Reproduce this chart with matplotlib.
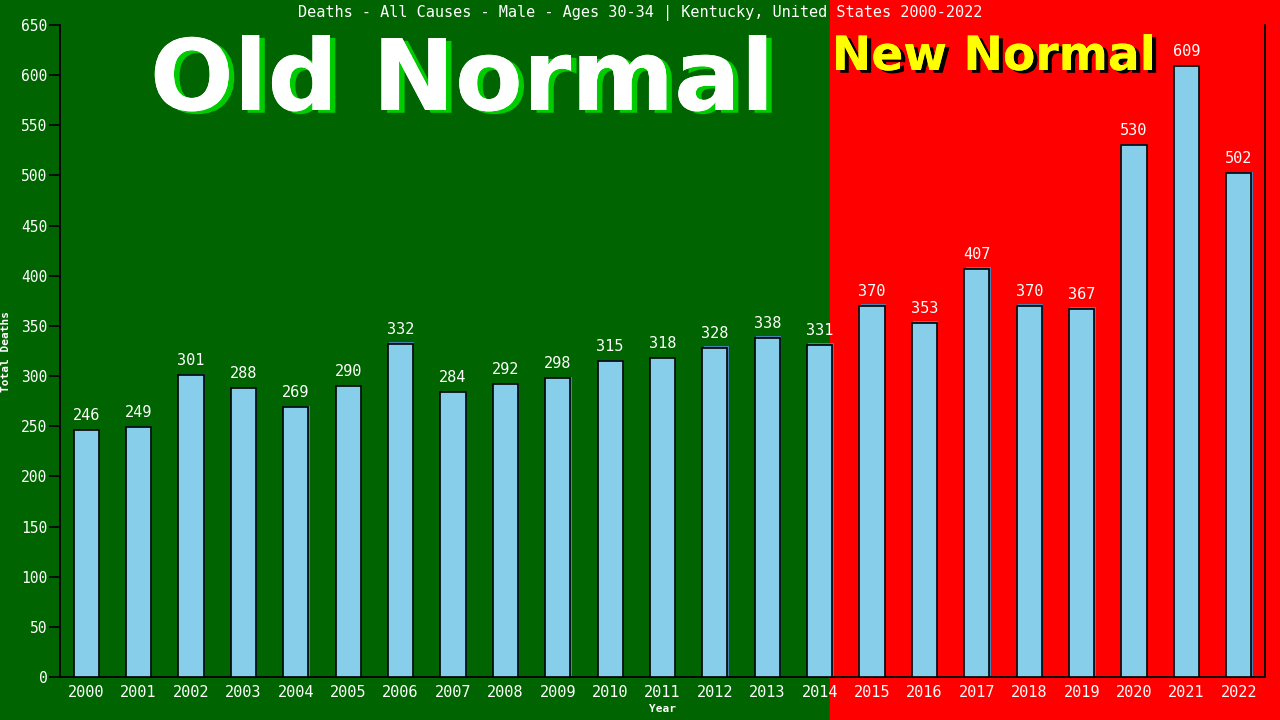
import matplotlib
matplotlib.use('Agg')
import matplotlib.pyplot as plt
import matplotlib.patheffects as pe
from matplotlib.patches import Rectangle

years = ['2000', '2001', '2002', '2003', '2004', '2005', '2006', '2007', '2008', '2009', '2010', '2011',
         '2012', '2013', '2014', '2015', '2016', '2017', '2018', '2019', '2020', '2021', '2022']
deaths = [246, 249, 301, 288, 269, 290, 332, 284, 292, 298, 315, 318,
          328, 338, 331, 370, 353, 407, 370, 367, 530, 609, 502]
yticks = list(range(0, 651, 50))

mono = 'DejaVu Sans Mono'

fig = plt.figure(figsize=(12.8, 7.2), dpi=100)

# background halves: old normal (green) / new normal (red)
split = 830 / 1280
fig.patches.append(Rectangle((0, 0), split, 1, transform=fig.transFigure, color='#006400', zorder=-10))
fig.patches.append(Rectangle((split, 0), 1 - split, 1, transform=fig.transFigure, color='#ff0000', zorder=-10))

ax = fig.add_axes([60 / 1280, 43 / 720, 1205 / 1280, 652 / 720])
ax.set_facecolor('none')

x = list(range(len(years)))
# thin shadow behind each bar
ax.bar([i + 0.025 for i in x], [d + 1.5 for d in deaths], width=0.48, color='#4682b4', zorder=2)
ax.bar(x, deaths, width=0.48, color='#87ceeb', edgecolor='black', linewidth=1.2, zorder=3)

for i, d in zip(x, deaths):
    ax.text(i, d + 7, str(d), ha='center', va='bottom', color='white', fontsize=11,
            family=mono, zorder=4)

ax.set_xlim(-0.5, len(years) - 0.5)
ax.set_ylim(0, 650)
ax.set_xticks(x)
ax.set_xticklabels(years, family=mono, fontsize=11, color='white')
ax.set_yticks(yticks)
ax.set_yticklabels([str(t) for t in yticks], family=mono, fontsize=10.5, color='white')
ax.tick_params(axis='x', length=0, pad=6)
ax.tick_params(axis='y', length=8, width=1.2, color='black', pad=1)

for s in ['left', 'bottom', 'right']:
    ax.spines[s].set_color('black')
    ax.spines[s].set_linewidth(1.3)
ax.spines['top'].set_visible(False)

ax.set_xlabel('Year', family=mono, fontsize=8, fontweight='bold', color='white', labelpad=3)
ax.set_ylabel('Total Deaths', family=mono, fontsize=8, fontweight='bold', color='white')
ax.yaxis.set_label_coords(-0.041, 0.5)

fig.text(0.5, 1 - 13 / 720, 'Deaths - All Causes - Male - Ages 30-34 | Kentucky, United States 2000-2022',
         ha='center', va='center', color='white', fontsize=11, family=mono)

fig.text(462 / 1280, 1 - 110 / 720, 'Old Normal', ha='center', va='baseline', color='white',
         fontsize=71, fontweight='bold', family='DejaVu Sans',
         path_effects=[pe.withSimplePatchShadow(offset=(4, -2), shadow_rgbFace='#00cc00', alpha=1),
                       pe.Normal()])
fig.text(994 / 1280, 1 - 70 / 720, 'New Normal', ha='center', va='baseline', color='#ffff00',
         fontsize=34, fontweight='bold', family='DejaVu Sans',
         path_effects=[pe.withSimplePatchShadow(offset=(3, -2), shadow_rgbFace='black', alpha=1),
                       pe.Normal()])

fig.savefig('out.png', dpi=100)
